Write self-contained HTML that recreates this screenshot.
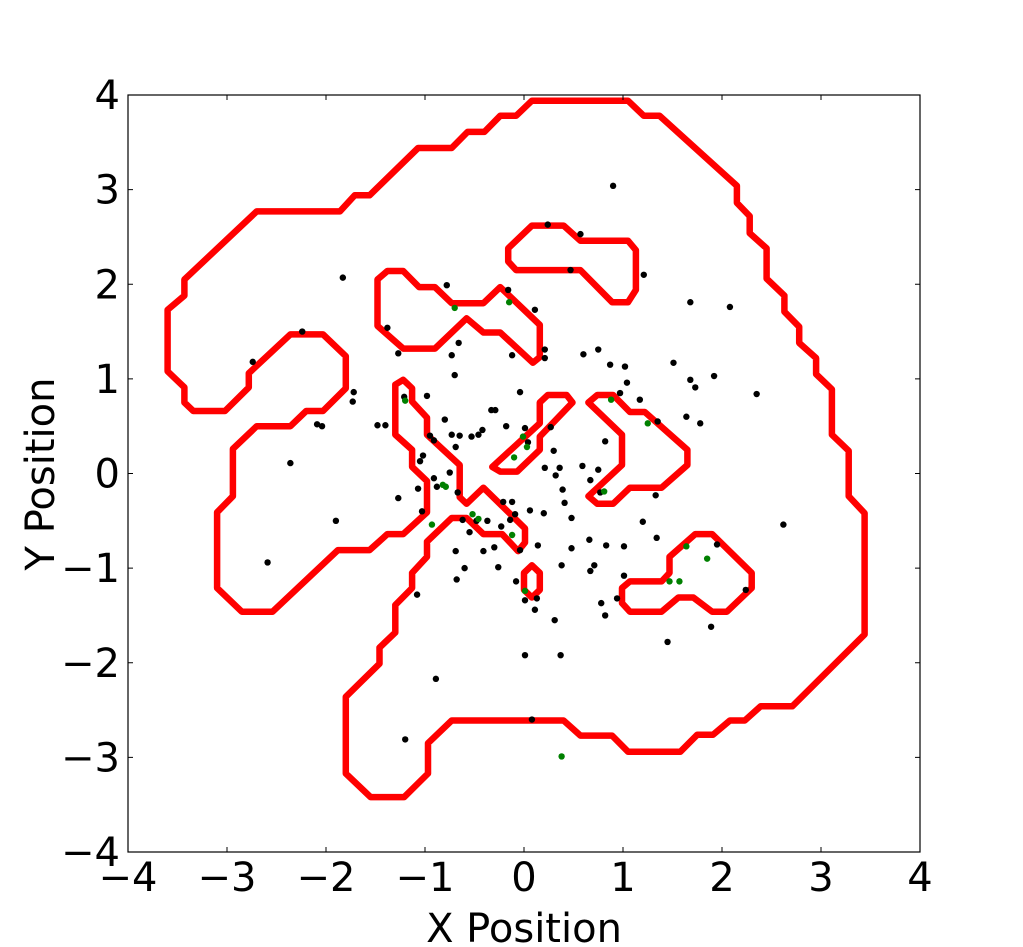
<!DOCTYPE html>
<html><head><meta charset="utf-8"><style>
html,body{margin:0;padding:0;background:#fff;}
svg{display:block;}
text{font-family:"DejaVu Sans","Liberation Sans",sans-serif;fill:#000;}
</style></head><body>
<svg id="chart" width="1023" height="947" viewBox="0 0 1023 947" xmlns="http://www.w3.org/2000/svg">
<rect x="0" y="0" width="1023" height="947" fill="#fff"/>
<g id="contours"></g>
<g id="pts"></g>
<rect x="128" y="95" width="792" height="757" fill="none" stroke="#000" stroke-width="1.2"/>
<g id="axes"></g>
<text x="524" y="942" font-size="40" text-anchor="middle">X Position</text>
<text transform="translate(54,474) rotate(-90)" font-size="40" text-anchor="middle">Y Position</text>
</svg>
<script>
const xTicks = [-4,-3,-2,-1,0,1,2,3,4];
const yTicks = [-4,-3,-2,-1,0,1,2,3,4];
const tickLabels = ["\u22124","\u22123","\u22122","\u22121","0","1","2","3","4"];

const contourOuter = [[-3.43,2.05],[-3.43,1.88],[-3.60,1.73],[-3.60,1.08],[-3.43,0.91],[-3.43,0.75],[-3.34,0.66],[-3.02,0.66],[-2.78,0.91],[-2.78,1.06],[-2.36,1.47],[-2.03,1.47],[-1.80,1.24],[-1.80,0.90],[-2.03,0.66],[-2.20,0.66],[-2.36,0.50],[-2.70,0.50],[-2.94,0.26],[-2.94,-0.24],[-3.10,-0.41],[-3.10,-1.21],[-2.85,-1.46],[-2.54,-1.46],[-1.88,-0.81],[-1.56,-0.81],[-1.38,-0.64],[-1.22,-0.64],[-0.98,-0.41],[-0.98,-0.08],[-1.13,0.07],[-1.13,0.25],[-1.30,0.41],[-1.30,0.94],[-1.22,0.99],[-1.13,0.90],[-1.13,0.76],[-0.98,0.59],[-0.98,0.41],[-0.65,0.09],[-0.65,-0.25],[-0.58,-0.32],[-0.41,-0.15],[0.01,-0.58],[0.01,-0.73],[-0.06,-0.82],[-0.22,-0.64],[-0.41,-0.64],[-0.58,-0.47],[-0.73,-0.47],[-0.98,-0.72],[-0.98,-0.88],[-1.13,-1.05],[-1.13,-1.21],[-1.30,-1.39],[-1.30,-1.68],[-1.46,-1.84],[-1.46,-2.01],[-1.80,-2.36],[-1.80,-3.17],[-1.55,-3.42],[-1.21,-3.42],[-0.97,-3.17],[-0.97,-2.85],[-0.73,-2.61],[0.40,-2.61],[0.57,-2.77],[0.89,-2.77],[1.05,-2.94],[1.58,-2.94],[1.75,-2.76],[1.91,-2.76],[2.08,-2.61],[2.23,-2.61],[2.39,-2.46],[2.71,-2.46],[3.44,-1.70],[3.44,-0.42],[3.28,-0.24],[3.28,0.24],[3.11,0.41],[3.11,0.89],[2.95,1.05],[2.95,1.22],[2.78,1.38],[2.78,1.55],[2.63,1.71],[2.63,1.88],[2.45,2.06],[2.45,2.38],[2.28,2.54],[2.28,2.72],[2.15,2.86],[2.15,3.04],[1.37,3.78],[1.21,3.78],[1.05,3.94],[0.08,3.94],[-0.08,3.78],[-0.24,3.78],[-0.40,3.61],[-0.57,3.61],[-0.73,3.44],[-1.07,3.44],[-1.56,2.94],[-1.71,2.94],[-1.86,2.77],[-2.70,2.77]];
const contourUpperLeft = [[-1.48,2.05],[-1.38,2.14],[-1.22,2.14],[-1.06,1.97],[-0.90,1.97],[-0.73,1.80],[-0.41,1.80],[-0.24,1.97],[0.16,1.57],[0.16,1.23],[0.09,1.17],[-0.24,1.49],[-0.41,1.49],[-0.58,1.64],[-0.90,1.32],[-1.22,1.32],[-1.48,1.56]];
const contourUpperMid = [[-0.16,2.38],[0.08,2.62],[0.40,2.62],[0.57,2.46],[1.05,2.46],[1.13,2.36],[1.13,1.94],[1.05,1.81],[0.89,1.81],[0.57,2.15],[-0.08,2.15],[-0.16,2.24]];
const contourDiagonal = [[-0.32,0.07],[0.16,0.53],[0.16,0.75],[0.24,0.83],[0.43,0.83],[0.49,0.75],[0.16,0.39],[0.16,0.25],[-0.07,0.02],[-0.24,0.02]];
const contourSmall = [[0.08,-0.97],[0.16,-1.05],[0.16,-1.23],[0.08,-1.31],[0.00,-1.23],[0.00,-1.05]];
const contourRightC = [[0.65,0.75],[0.74,0.83],[0.90,0.83],[1.07,0.65],[1.22,0.65],[1.65,0.25],[1.65,0.09],[1.39,-0.15],[1.07,-0.15],[0.90,-0.32],[0.74,-0.32],[0.65,-0.24],[0.99,0.09],[0.99,0.41]];
const contourLowerRight = [[0.99,-1.21],[1.07,-1.14],[1.39,-1.14],[1.47,-1.05],[1.47,-0.88],[1.73,-0.64],[1.90,-0.64],[2.30,-1.05],[2.30,-1.21],[2.05,-1.46],[1.90,-1.46],[1.71,-1.31],[1.56,-1.31],[1.39,-1.46],[1.07,-1.46],[0.99,-1.37]];

const blackX = [0.90,0.57,0.47,0.24,1.21,-1.83,-0.78,0.11,-0.16,1.68,2.08,-1.38,-1.27,-0.66,-0.73,-0.12,-0.70,0.60,0.75,0.87,1.02,0.21,0.21,1.04,1.51,1.92,1.68,1.73,2.35,1.64,1.78,1.35,1.17,0.97,-0.04,-0.29,0.27,-0.18,0.01,0.82,0.59,0.75,0.04,0.30,0.21,0.36,0.32,0.39,0.67,0.77,1.33,1.20,1.01,0.83,0.66,0.71,0.67,0.78,1.01,0.82,0.94,1.45,1.89,2.24,2.62,1.95,1.34,0.41,0.48,0.20,0.06,-0.09,-0.14,-0.12,-0.21,-0.23,-0.37,-0.48,-0.55,-0.62,-0.67,-0.88,-0.91,-0.75,-1.02,-0.91,-0.80,-0.73,-0.65,-0.42,-0.46,-0.33,-0.53,-0.69,-1.21,-0.95,-0.98,-1.05,-1.40,-1.48,-2.04,-2.36,-1.90,-1.27,-1.07,-1.03,-0.69,-0.68,-0.60,-0.41,-0.30,-0.26,-0.04,0.14,-0.08,0.01,0.11,0.13,0.48,0.38,0.31,0.37,0.01,-1.08,-0.89,-1.20,-2.59,-1.72,-1.73,-2.09,-2.74,-2.24,0.08];
const blackY = [3.04,2.53,2.15,2.63,2.10,2.07,1.99,1.73,1.94,1.81,1.76,1.54,1.27,1.38,1.25,1.25,1.04,1.26,1.31,1.15,1.13,1.31,1.22,0.96,1.17,1.03,0.99,0.91,0.84,0.60,0.53,0.55,0.78,0.85,0.86,0.67,0.49,0.50,0.48,0.34,0.08,0.04,0.33,0.24,0.06,0.06,-0.02,-0.17,-0.07,-0.20,-0.23,-0.51,-0.77,-0.76,-0.70,-0.97,-1.03,-1.37,-1.08,-1.50,-1.32,-1.78,-1.62,-1.23,-0.54,-0.75,-0.68,-0.31,-0.47,-0.42,-0.39,-0.43,-0.49,-0.30,-0.30,-0.56,-0.50,-0.50,-0.62,-0.49,-0.20,-0.14,-0.05,0.01,0.19,0.35,0.57,0.41,0.40,0.46,0.41,0.67,0.39,0.28,0.81,0.40,0.82,0.13,0.51,0.51,0.50,0.11,-0.50,-0.26,-0.16,-0.40,-0.82,-1.12,-1.00,-0.82,-0.78,-0.99,-0.81,-0.76,-1.14,-1.34,-1.44,-1.32,-0.79,-0.97,-1.55,-1.92,-1.92,-1.28,-2.17,-2.81,-0.94,0.86,0.76,0.52,1.18,1.50,-2.60];
const greenX = [-0.70,-0.15,-1.20,-0.82,-0.79,-0.93,-0.52,-0.46,-0.12,-0.10,-0.01,0.03,0.88,1.25,0.81,1.64,1.47,1.57,1.85,0.38,0.01];
const greenY = [1.75,1.81,0.77,-0.12,-0.14,-0.54,-0.43,-0.48,-0.65,0.17,0.39,0.28,0.78,0.53,-0.19,-0.77,-1.14,-1.14,-0.90,-2.99,-1.24];

const X0=128,X1=920,Y0=852,Y1=95;
function sx(v){return X0+(v+4)/8*(X1-X0);}
function sy(v){return Y0-(v+4)/8*(Y0-Y1);}
const NS="http://www.w3.org/2000/svg";
function mk(tag,attrs,parent){const e=document.createElementNS(NS,tag);for(const k in attrs)e.setAttribute(k,attrs[k]);parent.appendChild(e);return e;}

const cg=document.getElementById('contours');
const contours=[["contour-outer",contourOuter],["contour-upper-left",contourUpperLeft],["contour-upper-mid",contourUpperMid],["contour-diagonal",contourDiagonal],["contour-small",contourSmall],["contour-right-c",contourRightC],["contour-lower-right",contourLowerRight]];
contours.forEach(([nm,c])=>{
  const p=mk('polygon',{points:c.map(q=>sx(q[0]).toFixed(1)+','+sy(q[1]).toFixed(1)).join(' '),fill:'none',stroke:'#ff0000','stroke-width':6.5,'stroke-linejoin':'round'},cg);
  
  
});

const pg=document.getElementById('pts');
blackX.forEach((x,i)=>{
  const c=mk('circle',{cx:sx(x),cy:sy(blackY[i]),r:3.2,fill:'#000'},pg);
  
  
});
greenX.forEach((x,i)=>{
  const c=mk('circle',{cx:sx(x),cy:sy(greenY[i]),r:3.2,fill:'#008000'},pg);
  
  
});

const ag=document.getElementById('axes');
xTicks.forEach((t,i)=>{
  const x=sx(t);
  const l1=mk('line',{x1:x,y1:Y0,x2:x,y2:Y0-5,stroke:'#000','stroke-width':1},ag);
  
  
  const l2=mk('line',{x1:x,y1:Y1,x2:x,y2:Y1+5,stroke:'#000','stroke-width':1},ag);
  
  
  const tx=mk('text',{x:x,y:891,'font-size':40,'text-anchor':'middle'},ag);
  tx.textContent=tickLabels[i];
  
  
});
yTicks.forEach((t,i)=>{
  const y=sy(t);
  const l1=mk('line',{x1:X0,y1:y,x2:X0+5,y2:y,stroke:'#000','stroke-width':1},ag);
  
  
  const l2=mk('line',{x1:X1,y1:y,x2:X1-5,y2:y,stroke:'#000','stroke-width':1},ag);
  
  
  const tx=mk('text',{x:120,y:y+14,'font-size':40,'text-anchor':'end'},ag);
  tx.textContent=tickLabels[i];
  
  
});
</script>
</body></html>
